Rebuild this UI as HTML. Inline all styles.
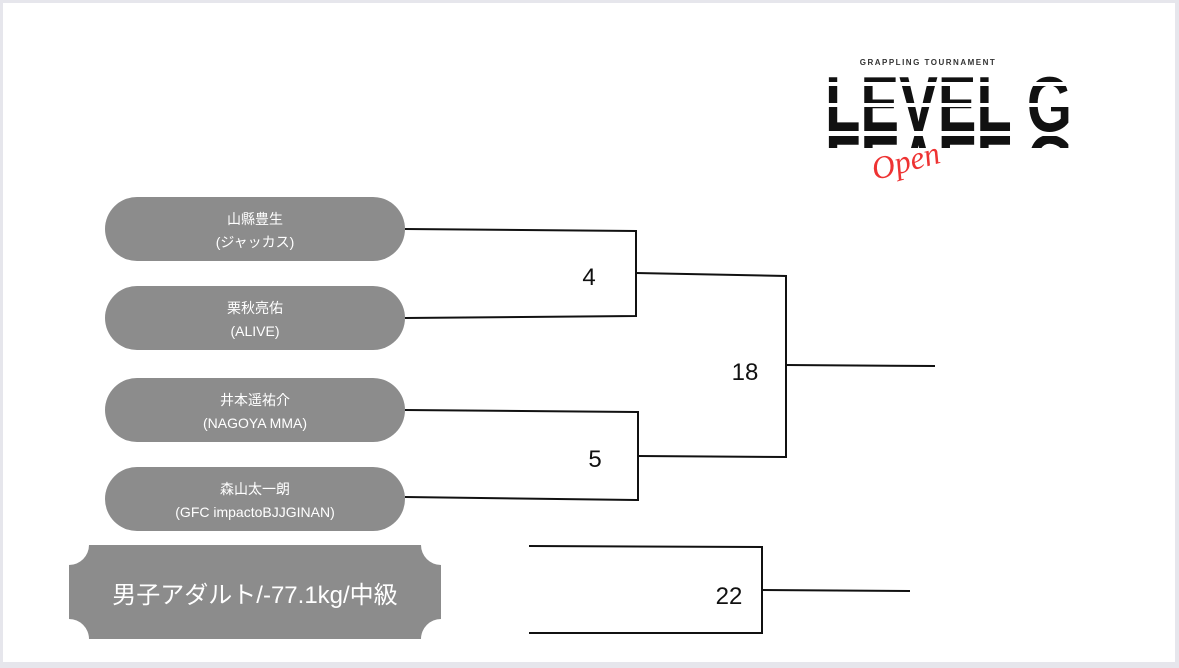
<!DOCTYPE html>
<html><head><meta charset="utf-8"><style>
html,body{margin:0;padding:0;background:#e6e6ec;}
body{width:1179px;height:668px;overflow:hidden;position:relative;}
svg{position:absolute;left:0;top:0;}
</style></head><body>
<svg width="1179" height="668" viewBox="0 0 1179 668" xmlns="http://www.w3.org/2000/svg">
<defs><clipPath id="c"><rect x="800" y="119" width="300" height="12"/></clipPath></defs>
<rect x="3" y="3" width="1172" height="659" fill="#fff"/>
<g fill="#8c8c8c">
<rect x="105" y="197" width="300" height="64" rx="32"/>
<rect x="105" y="286" width="300" height="64" rx="32"/>
<rect x="105" y="378" width="300" height="64" rx="32"/>
<rect x="105" y="467" width="300" height="64" rx="32"/>
<path d="M89 545 H421 A20 20 0 0 0 441 565 V619 A20 20 0 0 0 421 639 H89 A20 20 0 0 0 69 619 V565 A20 20 0 0 0 89 545 Z"/>
</g>
<g fill="#fff" font-family="'Liberation Sans','Noto Sans CJK JP',sans-serif" font-size="14" text-anchor="middle">
<text x="255" y="224">山縣豊生</text><text x="255" y="247">(ジャッカス)</text>
<text x="255" y="313">栗秋亮佑</text><text x="255" y="336">(ALIVE)</text>
<text x="255" y="405">井本遥祐介</text><text x="255" y="428">(NAGOYA MMA)</text>
<text x="255" y="494">森山太一朗</text><text x="255" y="517">(GFC impactoBJJGINAN)</text>
<text x="255" y="603" font-size="24">男子アダルト/-77.1kg/中級</text>
</g>
<g stroke="#111" stroke-width="2" fill="none">
<polyline points="405,229 636,231 636,316 405,318"/>
<polyline points="636,273 786,276 786,457 638,456"/>
<line x1="786" y1="365" x2="935" y2="366"/>
<polyline points="405,410 638,412 638,500 405,497"/>
<polyline points="529,546 762,547 762,633 529,633"/>
<line x1="762" y1="590" x2="910" y2="591"/>
</g>
<g fill="#111" font-family="'Liberation Sans',sans-serif" font-size="24" text-anchor="middle">
<text x="589" y="285">4</text><text x="745" y="380">18</text>
<text x="595" y="467">5</text><text x="729" y="604">22</text>
</g>
<text x="928" y="65" font-family="'Liberation Sans',sans-serif" font-size="8" font-weight="bold" fill="#333" text-anchor="middle" letter-spacing="1.5">GRAPPLING TOURNAMENT</text>
<text x="825" y="131" font-family="'Liberation Sans',sans-serif" font-size="78" font-weight="bold" fill="#111" textLength="247" lengthAdjust="spacingAndGlyphs">LEVEL G</text>
<g transform="translate(0,267) scale(1,-1)">
<text x="825" y="131" font-family="'Liberation Sans',sans-serif" font-size="78" font-weight="bold" fill="#111" textLength="247" lengthAdjust="spacingAndGlyphs" clip-path="url(#c)">LEVEL G</text>
</g>
<g stroke="#fff" stroke-width="4"><line x1="815" y1="84" x2="1085" y2="84"/><line x1="815" y1="105" x2="1085" y2="105"/></g>
<text x="872" y="172" font-family="'Liberation Serif',serif" font-style="italic" font-size="32" fill="#e33" transform="rotate(-15 905 165)">Open</text>
</svg>
</body></html>
